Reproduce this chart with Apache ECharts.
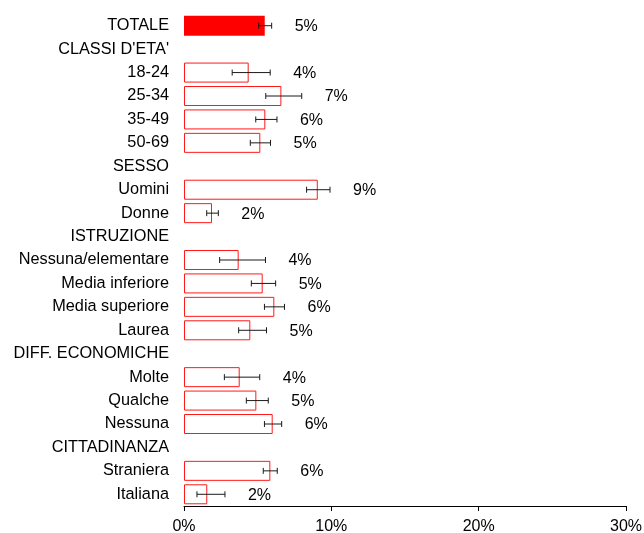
<!DOCTYPE html>
<html>
<head>
<meta charset="utf-8">
<script src="https://cdn.jsdelivr.net/npm/echarts@6/dist/echarts.min.js"></script>
<style>html,body{margin:0;padding:0;background:#fff;}#c{width:644px;height:533px;}</style>
</head>
<body>
<div id="c"></div>
<script>
const categories = ['TOTALE', "CLASSI D'ETA'", '18-24', '25-34', '35-49', '50-69', 'SESSO', 'Uomini', 'Donne', 'ISTRUZIONE', 'Nessuna/elementare', 'Media inferiore', 'Media superiore', 'Laurea', 'DIFF. ECONOMICHE', 'Molte', 'Qualche', 'Nessuna', 'CITTADINANZA', 'Straniera', 'Italiana'];
const values = [5.48, null, 4.39, 6.61, 5.52, 5.18, null, 9.08, 1.90, null, 3.71, 5.34, 6.13, 4.50, null, 3.78, 4.91, 6.02, null, 5.86, 1.58];
const errLow = [5.07, null, 3.27, 5.55, 4.87, 4.50, null, 8.32, 1.54, null, 2.42, 4.57, 5.46, 3.71, null, 2.74, 4.23, 5.46, null, 5.38, 0.88];
const errHigh = [5.95, null, 5.85, 7.99, 6.31, 5.87, null, 9.91, 2.33, null, 5.53, 6.22, 6.82, 5.60, null, 5.14, 5.72, 6.63, null, 6.33, 2.78];
const valueLabels = ['5%', '', '4%', '7%', '6%', '5%', '', '9%', '2%', '', '4%', '5%', '6%', '5%', '', '4%', '5%', '6%', '', '6%', '2%'];
const xMin = 0, xMax = 30, xInterval = 10;

const FONT = '"Liberation Sans", Arial, sans-serif';

const barData = values.map((v, i) => {
  if (v === null) return null;
  if (i === 0) return { value: v, itemStyle: { color: '#ff0000', borderColor: '#ff0000', borderWidth: 0 } };
  return { value: v, itemStyle: { color: '#ffffff', borderColor: '#ff1a1a', borderWidth: 1 } };
});

const errData = [];
values.forEach((v, i) => {
  if (v !== null) errData.push([errLow[i], errHigh[i], i]);
});

const chart = echarts.init(document.getElementById('c'), null, { renderer: 'canvas' });
chart.setOption({
  animation: false,
  backgroundColor: '#ffffff',
  grid: { left: 184, right: 18, top: 14, bottom: 27, containLabel: false, outerBoundsMode: 'none' },
  xAxis: {
    type: 'value', min: xMin, max: xMax, interval: xInterval,
    axisLine: { show: true, lineStyle: { color: '#000', width: 1 } },
    axisTick: { show: true, length: 5, lineStyle: { color: '#000' } },
    splitLine: { show: false },
    axisLabel: { formatter: '{value}%', color: '#000', fontSize: 16, fontFamily: FONT, margin: 13 }
  },
  yAxis: {
    type: 'category', data: categories, inverse: true,
    axisLine: { show: false }, axisTick: { show: false },
    axisLabel: { color: '#000', fontSize: 16.3, fontFamily: FONT, margin: 15 }
  },
  series: [
    {
      type: 'bar', data: barData, barWidth: 20, z: 2
    },
    {
      type: 'custom', z: 3,
      data: errData,
      encode: { x: [0, 1], y: 2 },
      renderItem: function (params, api) {
        const idx = api.value(2);
        const lo = api.coord([api.value(0), idx]);
        const hi = api.coord([api.value(1), idx]);
        const y = lo[1];
        const cap = 3;
        const st = { stroke: '#1a1a1a', lineWidth: 1 };
        return {
          type: 'group',
          children: [
            { type: 'line', shape: { x1: lo[0], y1: y, x2: hi[0], y2: y }, style: st },
            { type: 'line', shape: { x1: lo[0], y1: y - cap, x2: lo[0], y2: y + cap }, style: st },
            { type: 'line', shape: { x1: hi[0], y1: y - cap, x2: hi[0], y2: y + cap }, style: st },
            { type: 'text', style: { x: hi[0] + 23, y: y + 1, text: valueLabels[idx], fill: '#000', font: '16px ' + FONT, textAlign: 'left', textVerticalAlign: 'middle' } }
          ]
        };
      }
    }
  ]
});
</script>
</body>
</html>
